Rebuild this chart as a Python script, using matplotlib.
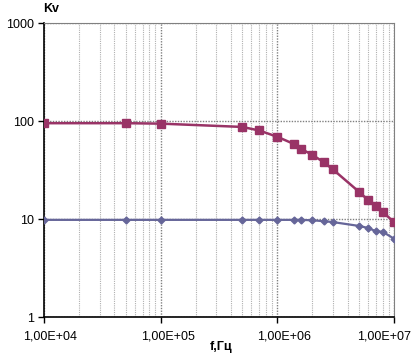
import matplotlib
matplotlib.use("Agg")
import matplotlib.pyplot as plt
import matplotlib.transforms as mtransforms
from matplotlib.ticker import FixedLocator, NullFormatter, LogLocator

plt.rcParams['font.family'] = ['Liberation Sans', 'DejaVu Sans']

freq = [1e4, 5e4, 1e5, 5e5, 7e5, 1e6, 1.4e6, 1.6e6, 2e6, 2.5e6, 3e6, 5e6, 6e6, 7e6, 8e6, 1e7]
kv_red = [95, 95, 94, 87, 80, 69, 58, 52, 45, 38, 32, 19, 15.6, 13.6, 11.8, 9.3]
kv_blue = [9.8, 9.8, 9.8, 9.8, 9.8, 9.8, 9.8, 9.8, 9.7, 9.5, 9.3, 8.5, 8.1, 7.5, 7.4, 6.3]
xtick_vals = [1e4, 1e5, 1e6, 1e7]
xtick_labels = ["1,00E+04", "1,00E+05", "1,00E+06", "1,00E+07"]
ytick_vals = [1, 10, 100, 1000]
ytick_labels = ["1", "10", "100", "1000"]

fig = plt.figure(figsize=(4.19, 3.63), dpi=100)
ax = fig.add_axes([44/419, 1-317/363, 350/419, 294/363])
ax.set_xscale('log')
ax.set_yscale('log')
ax.set_xlim(1e4, 1e7)
ax.set_ylim(1, 1000)

# grid
ax.xaxis.set_minor_locator(LogLocator(base=10, subs=range(2, 10)))
ax.yaxis.set_minor_locator(FixedLocator([]))
ax.grid(which='major', axis='both', color='#808080', linestyle=(0, (1, 1)), linewidth=1.0)
ax.grid(which='minor', axis='x', color='#b0b0b0', linestyle=(0, (1, 1)), linewidth=0.8)
ax.set_axisbelow(True)

ax.plot(freq, kv_blue, color='#666699', linewidth=1.6, marker='D', markersize=3.5,
        markerfacecolor='#666699', markeredgecolor='#666699', zorder=3)
ax.plot(freq, kv_red, color='#993366', linewidth=1.8, marker='s', markersize=6,
        markerfacecolor='#993366', markeredgecolor='#993366', zorder=4)

ax.set_xticks(xtick_vals)
ax.set_xticklabels(xtick_labels)
ax.set_yticks(ytick_vals)
ax.set_yticklabels(ytick_labels)
ax.xaxis.set_minor_formatter(NullFormatter())
ax.tick_params(axis='both', which='major', direction='out', length=4, width=1,
               labelsize=9, color='black', pad=6)
ax.tick_params(axis='x', which='minor', length=0)
ax.tick_params(axis='y', which='major', pad=3)

offsets = [6, 7, 7, -10]
for lbl, dx in zip(ax.get_xticklabels(), offsets):
    lbl.set_transform(lbl.get_transform() +
                      mtransforms.ScaledTranslation(dx/100, 0, fig.dpi_scale_trans))

for side in ['top', 'right']:
    ax.spines[side].set_color('#808080')
    ax.spines[side].set_linestyle((0, (1, 1)))
for side in ['left', 'bottom']:
    ax.spines[side].set_color('black')
    ax.spines[side].set_linewidth(1.2)

fig.text(43/419, 1-9/363, "Kv", fontsize=9, fontweight='bold', ha='left', va='center')
fig.text(221/419, 1-347/363, "f,Гц", fontsize=9, fontweight='bold', ha='center', va='center')

fig.savefig("out.png", dpi=100)
